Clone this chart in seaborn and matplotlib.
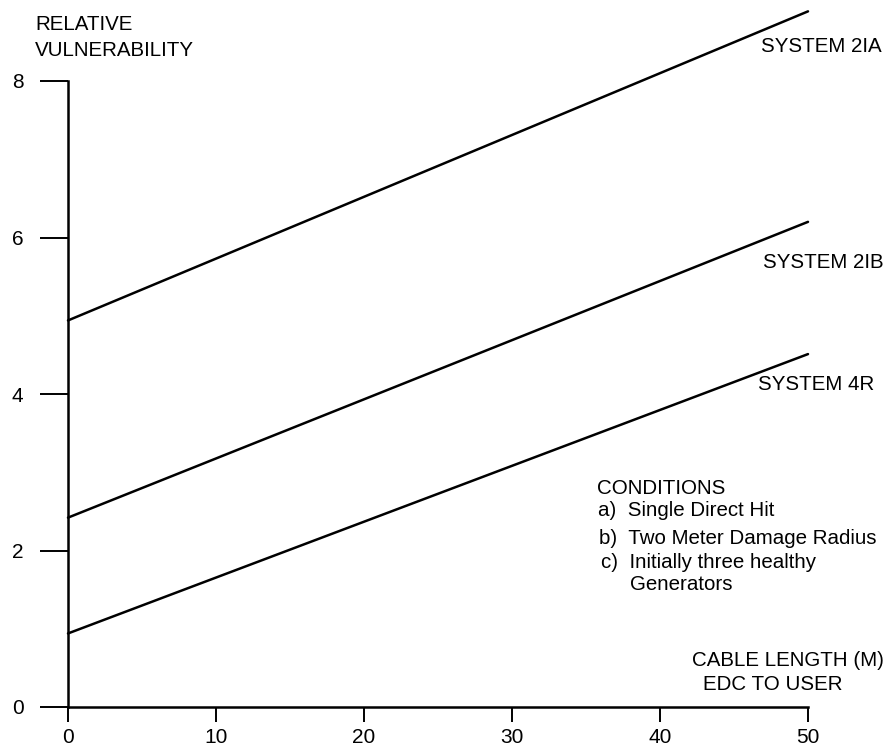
import matplotlib
matplotlib.use("Agg")
import matplotlib.pyplot as plt
import seaborn as sns
import pandas as pd

# Relative vulnerability vs. cable length (EDC to user) for three systems
cable_length = [0, 50]
system_2ia = [4.94, 8.89]
system_2ib = [2.42, 6.20]
system_4r = [0.94, 4.51]
series_names = ["SYSTEM 2IA", "SYSTEM 2IB", "SYSTEM 4R"]
x_ticks = [0, 10, 20, 30, 40, 50]
y_ticks = [0, 2, 4, 6, 8]

df = pd.concat([
    pd.DataFrame({"length": cable_length, "vuln": vals, "system": name})
    for name, vals in zip(series_names, [system_2ia, system_2ib, system_4r])
])

sns.set_theme(style="white")
plt.rcParams["font.family"] = ["Liberation Sans", "DejaVu Sans"]
plt.rcParams["text.color"] = "black"

W, H = 891, 746
fig = plt.figure(figsize=(W / 100, H / 100), dpi=100)
left, right, top, bottom = 68, 808, 81, 707
ax = fig.add_axes([left / W, 1 - bottom / H, (right - left) / W, (bottom - top) / H])

sns.lineplot(data=df, x="length", y="vuln", units="system", estimator=None,
             color="black", linewidth=1.8, ax=ax, legend=False)
for line in ax.get_lines():
    line.set_clip_on(False)

ax.set_xlim(0, 50)
ax.set_ylim(0, 8)
ax.set_xticks(x_ticks)
ax.set_yticks(y_ticks)
ax.set_xlabel("")
ax.set_ylabel("")
for s in ["top", "right"]:
    ax.spines[s].set_visible(False)
for s in ["left", "bottom"]:
    ax.spines[s].set_linewidth(1.8)
    ax.spines[s].set_color("black")
ax.tick_params(axis="y", direction="out", length=20, width=1.4, pad=12,
               labelsize=15, colors="black", left=True)
ax.tick_params(axis="x", direction="out", length=11, width=1.4, pad=4,
               labelsize=15, colors="black", bottom=True)


def px(x, y):
    return x / W, 1 - y / H


fs = 14.8
fig.text(*px(35, 25), "RELATIVE", fontsize=fs, va="center", ha="left")
fig.text(*px(35, 50), "VULNERABILITY", fontsize=fs, va="center", ha="left")

fig.text(*px(761, 47), "SYSTEM 2IA", fontsize=fs, va="center", ha="left")
fig.text(*px(763, 262), "SYSTEM 2IB", fontsize=fs, va="center", ha="left")
fig.text(*px(758, 385), "SYSTEM 4R", fontsize=fs, va="center", ha="left")

fig.text(*px(597, 488), "CONDITIONS", fontsize=fs, va="center", ha="left")
fig.text(*px(598, 511), "a)  Single Direct Hit", fontsize=fs, va="center", ha="left")
fig.text(*px(599, 538), "b)  Two Meter Damage Radius", fontsize=fs, va="center", ha="left")
fig.text(*px(601, 562), "c)  Initially three healthy", fontsize=fs, va="center", ha="left")
fig.text(*px(630, 585), "Generators", fontsize=fs, va="center", ha="left")

fig.text(*px(692, 660), "CABLE LENGTH (M)", fontsize=fs, va="center", ha="left")
fig.text(*px(703, 685), "EDC TO USER", fontsize=fs, va="center", ha="left")

fig.savefig("out.png", dpi=100, facecolor="white")
